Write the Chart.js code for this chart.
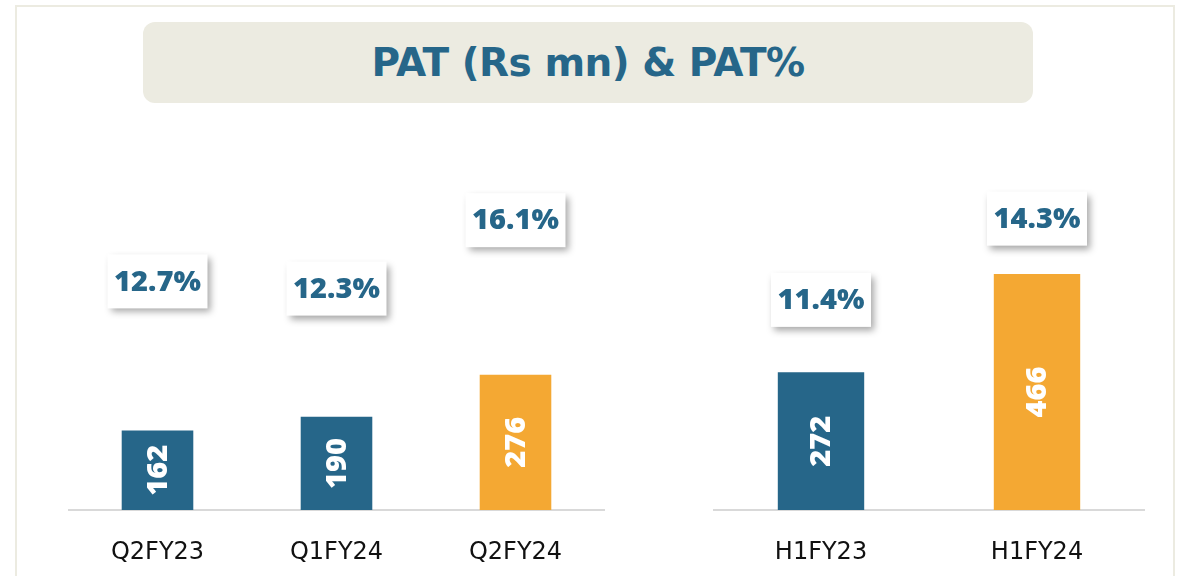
<!DOCTYPE html>
<html>
<head>
<meta charset="utf-8">
<script src="https://cdn.jsdelivr.net/npm/chart.js@4.4.0/dist/chart.umd.min.js"></script>
<style>
  html, body { margin: 0; padding: 0; background: #ffffff; overflow: hidden; }
  body { width: 1178px; height: 576px; position: relative; font-family: "DejaVu Sans", sans-serif; }
  .frame { position: absolute; left: 15px; top: 5px; width: 1156px; height: 640px; border: 2px solid #ecebe1; }
  .title {
    position: absolute; left: 143px; top: 22px; width: 890px; height: 81px;
    background: #ecebe1; border-radius: 12px;
    text-align: center; line-height: 81px;
    font-weight: 700; font-size: 39px; color: #266689; letter-spacing: -0.5px;
  }
  .box { position: absolute; top: 130px; }
</style>
</head>
<body>
<div class="frame"></div>
<div class="title">PAT (Rs mn) &amp; PAT%</div>
<div class="box" style="left:68px"><canvas id="leftChart" width="537" height="446"></canvas></div>
<div class="box" style="left:713px"><canvas id="rightChart" width="432" height="446"></canvas></div>

<script>
// ---- data ----
const leftCategories = ['Q2FY23', 'Q1FY24', 'Q2FY24'];
const leftPat = [162, 190, 276];
const leftPatPct = [12.7, 12.3, 16.1];

const rightCategories = ['H1FY23', 'H1FY24'];
const rightPat = [272, 466];
const rightPatPct = [11.4, 14.3];

// ---- styles ----
const colors = {
    blue: '#266689',
    orange: '#f4a833',
    text: '#266689',
    axis: '#d9d9d9',
    tick: '#111111'
};
const TICK_FONT = '"DejaVu Sans", sans-serif';
const LABEL_FONT = '"Open Sans", sans-serif';

// Draws value inside bar (rotated) and the % box above it
const labelPlugin = {
    id: 'patLabels',
    afterDatasetsDraw(chart) {
        const ctx = chart.ctx;
        const barMeta = chart.getDatasetMeta(0);
        const pctMeta = chart.getDatasetMeta(1);
        const bars = chart.data.datasets[0].data;
        const pcts = chart.data.datasets[1].data;

        ctx.save();
        // values inside bars
        barMeta.data.forEach((bar, i) => {
            const cy = (bar.y + bar.base) / 2;
            ctx.save();
            ctx.translate(bar.x, cy);
            ctx.rotate(-Math.PI / 2);
            ctx.fillStyle = '#ffffff';
            ctx.font = '800 29px ' + LABEL_FONT;
            ctx.textAlign = 'center';
            ctx.textBaseline = 'middle';
            ctx.fillText(String(bars[i]), 0, 1);
            ctx.restore();
        });

        // % boxes
        pctMeta.data.forEach((pt, i) => {
            const w = 100, h = 54;
            const x = pt.x - w / 2, y = pt.y - h / 2;
            ctx.save();
            ctx.shadowColor = 'rgba(0,0,0,0.35)';
            ctx.shadowBlur = 7;
            ctx.shadowOffsetX = 3;
            ctx.shadowOffsetY = 4;
            ctx.fillStyle = '#ffffff';
            ctx.fillRect(x, y, w, h);
            ctx.restore();
            ctx.fillStyle = colors.text;
            ctx.font = '800 29px ' + LABEL_FONT;
            ctx.textAlign = 'center';
            ctx.textBaseline = 'middle';
            ctx.fillText(pcts[i].toFixed(1) + '%', pt.x, pt.y + 1);
        });
        ctx.restore();
    }
};

function buildChart(canvasId, categories, pat, pct, barColors, yMax, pctMin, pctMax) {
    const ctx = document.getElementById(canvasId);
    return new Chart(ctx, {
        type: 'bar',
        data: {
            labels: categories,
            datasets: [
                {
                    label: 'PAT (Rs mn)',
                    data: pat,
                    backgroundColor: barColors,
                    borderWidth: 0,
                    categoryPercentage: 1,
                    barPercentage: 0.4,
                    yAxisID: 'y',
                    order: 2
                },
                {
                    type: 'line',
                    label: 'PAT%',
                    data: pct,
                    showLine: false,
                    pointRadius: 0,
                    yAxisID: 'y2',
                    order: 1
                }
            ]
        },
        options: {
            responsive: false,
            animation: false,
            layout: { padding: { top: 20, left: 0, right: 0, bottom: 0 } },
            plugins: {
                legend: { display: false },
                tooltip: { enabled: false }
            },
            scales: {
                x: {
                    grid: { display: false, drawTicks: false },
                    border: { display: true, color: colors.axis, width: 2 },
                    ticks: {
                        color: colors.tick,
                        font: { family: TICK_FONT, size: 24 },
                        padding: 28
                    },
                    afterFit: function(scale) { scale.height = 66; }
                },
                y: { display: false, min: 0, max: yMax },
                y2: { display: false, min: pctMin, max: pctMax }
            }
        },
        plugins: [labelPlugin]
    });
}

buildChart('leftChart', leftCategories, leftPat, leftPatPct,
    [colors.blue, colors.blue, colors.orange], 734, 0, 20);
buildChart('rightChart', rightCategories, rightPat, rightPatPct,
    [colors.blue, colors.orange], 711, 3.9, 16.75);
</script>
</body>
</html>
